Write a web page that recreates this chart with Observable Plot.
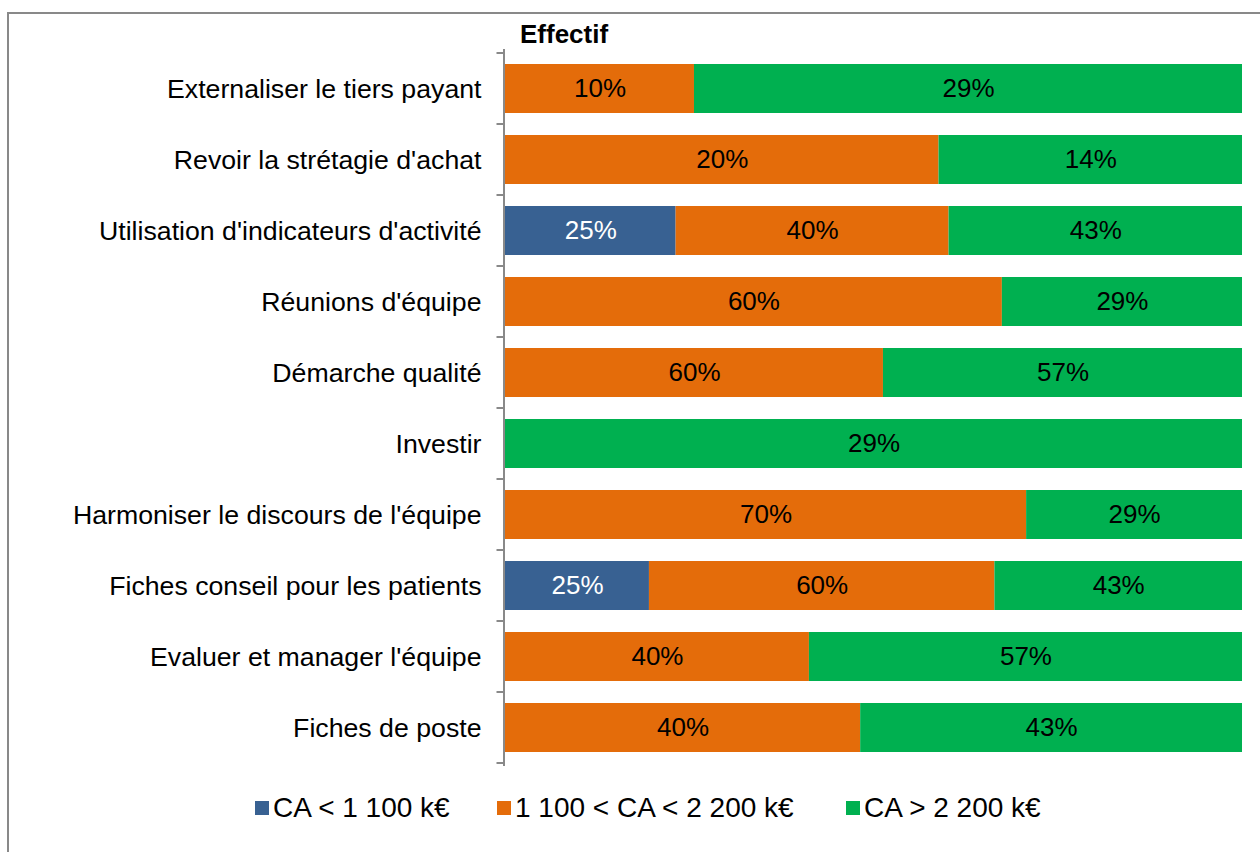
<!DOCTYPE html>
<html>
<head>
<meta charset="utf-8">
<script src="https://cdn.jsdelivr.net/npm/d3@7"></script>
<script src="https://cdn.jsdelivr.net/npm/@observablehq/plot@0.6"></script>
<style>
  html, body { margin: 0; padding: 0; background: #fff; overflow: hidden; }
  #page { position: relative; width: 1260px; height: 852px; font-family: "Liberation Sans", Arial, sans-serif; }
  #frame { position: absolute; left: 7px; top: 12px; width: 1400px; height: 1000px; border-left: 2px solid #898989; border-top: 2px solid #898989; }
  #title { position: absolute; left: 520px; top: 19px; font-size: 26px; font-weight: bold; color: #000; }
  #chart { position: absolute; left: 0; top: 0; }
  #legend { position: absolute; left: 0; top: 792px; width: 1260px; height: 32px; }
  .item { position: absolute; top: 0; display: flex; align-items: center; height: 32px; font-size: 28px; color: #000; white-space: nowrap; }
  .sw { width: 14px; height: 14px; margin-right: 4px; }
</style>
</head>
<body>
<div id="page">
  <div id="frame"></div>
  <div id="chart"></div>
  <div id="title">Effectif</div>
  <div id="legend"></div>
</div>
<script>
const categories = [
  "Externaliser le tiers payant",
  "Revoir la strétagie d'achat",
  "Utilisation d'indicateurs d'activité",
  "Réunions d'équipe",
  "Démarche qualité",
  "Investir",
  "Harmoniser le discours de l'équipe",
  "Fiches conseil pour les patients",
  "Evaluer et manager l'équipe",
  "Fiches de poste"
];
const seriesNames = ["CA < 1 100 k€", "1 100 < CA < 2 200 k€", "CA > 2 200 k€"];
const seriesColors = ["#386192", "#E46C0A", "#00B050"];
const small = [0, 0, 25, 0, 0, 0, 0, 25, 0, 0];
const medium = [10, 20, 40, 60, 60, 0, 70, 60, 40, 40];
const large = [29, 14, 43, 29, 57, 29, 29, 43, 57, 43];
const seriesValues = [small, medium, large];

const data = [];
categories.forEach((c, i) => {
  seriesNames.forEach((s, j) => {
    const v = seriesValues[j][i];
    if (v > 0) data.push({category: c, series: s, value: v});
  });
});

const W = 1260, H = 780;
const chart = Plot.plot({
  width: W,
  height: H,
  marginLeft: 505,
  marginRight: 18,
  marginTop: 49,
  marginBottom: 14,
  style: {fontFamily: '"Liberation Sans", Arial, sans-serif', background: "transparent"},
  x: {axis: null},
  y: {domain: categories, paddingInner: 0.31, paddingOuter: 0.155, label: null},
  color: {domain: seriesNames, range: seriesColors},
  marks: [
    Plot.barX(data, Plot.stackX({
      x: "value", y: "category", z: "series", fill: "series",
      offset: "normalize", order: seriesNames
    })),
    Plot.text(data, Plot.stackX({
      x: "value", y: "category", z: "series",
      offset: "normalize", order: seriesNames,
      text: d => d.value + "%",
      fill: d => d.series === seriesNames[0] ? "#ffffff" : "#000000",
      fontSize: 26
    })),
    Plot.axisY({tickSize: 0, tickPadding: 24, fontSize: 26.7, fill: "#000"}),
    Plot.ruleX([0], {stroke: "#898989", strokeWidth: 2, dx: -1.5})
  ]
});
document.getElementById("chart").appendChild(chart);

// boundary tick marks on the category axis, from the y scale
const ys = chart.scale("y");
const gap = (ys.step - ys.bandwidth) / 2;
const bounds = categories.map(c => ys.apply(c) - gap);
bounds.push(ys.apply(categories[categories.length - 1]) + ys.bandwidth + gap);
const xs = chart.scale("x");
const x0 = xs.apply(0) - 1.5;
d3.select(chart).append("g")
  .selectAll("line").data(bounds).join("line")
  .attr("x1", x0 - 7).attr("x2", x0)
  .attr("y1", d => d).attr("y2", d => d)
  .attr("stroke", "#898989").attr("stroke-width", 2);

// legend
const legendX = [255, 497, 846];
const legend = document.getElementById("legend");
seriesNames.forEach((s, i) => {
  const item = document.createElement("div");
  item.className = "item";
  item.style.left = legendX[i] + "px";
  const sw = document.createElement("div");
  sw.className = "sw";
  sw.style.background = seriesColors[i];
  item.appendChild(sw);
  item.appendChild(document.createTextNode(s));
  legend.appendChild(item);
});
</script>
</body>
</html>
